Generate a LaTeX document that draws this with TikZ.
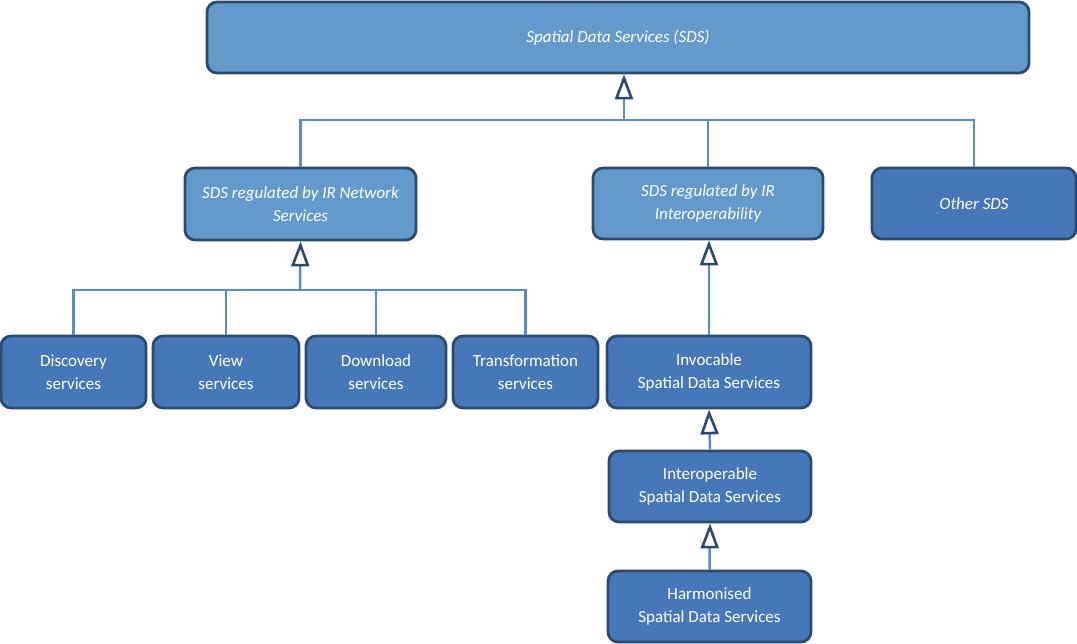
\documentclass[tikz,border=0pt]{standalone}
\usepackage{fontspec}
\setmainfont{Carlito}
\usepackage{tikz}
\usetikzlibrary{arrows.meta}

\definecolor{lightbox}{HTML}{6399CB}
\definecolor{darkbox}{HTML}{4677B8}
\definecolor{rim}{HTML}{2A4A70}
\definecolor{wire}{HTML}{558DD2}

\begin{document}
\begin{tikzpicture}[x=1pt,y=-1pt,every node/.style={font=\fontsize{17}{23}\selectfont,text=white,align=center},line width=2.5pt]
\tikzset{box/.style={draw=rim,rounded corners=10pt,line width=2.8pt,inner sep=0pt,minimum height=71pt},
  light/.style={box,fill=lightbox,font=\fontsize{17}{23}\selectfont\itshape},
  dark/.style={box,fill=darkbox},
  link/.style={draw=wire,line width=2.5pt},
  isa/.style={link,-{Triangle[open,length=25pt,width=18pt,line width=2.6pt,color=rim]}}}
\useasboundingbox (0,0) rectangle (1077,644);

% ---------- upper part ----------
\node[light,minimum width=822pt] (sds) at (618,37.5) {Spatial Data Services (SDS)};
\node[light,minimum width=231pt,minimum height=72pt] (net) at (300.5,204) {SDS regulated by IR Network\\Services};
\node[light,minimum width=230pt] (iop) at (708,203.5) {SDS regulated by IR\\Interoperability};
\node[dark,font=\fontsize{17}{23}\selectfont\itshape,minimum width=204pt] (oth) at (974,203.5) {Other SDS};

\coordinate (J1) at (624,120);
\draw[link] (net.north) |- (J1);
\draw[link] (iop.north) |- (J1);
\draw[link] (oth.north) |- (J1);
\draw[isa] (J1) -- (J1 |- sds.south);

% ---------- network services ----------
\node[dark,minimum width=145pt,minimum height=72pt] (D1) at (73.5,372) {Discovery\\services};
\node[dark,minimum width=146pt,minimum height=72pt] (D2) at (226,372) {View\\services};
\node[dark,minimum width=140pt,minimum height=72pt] (D3) at (376,372) {Download\\services};
\node[dark,minimum width=145pt,minimum height=72pt] (D4) at (525.5,372) {Transformation\\services};

\coordinate (J2) at (300,290);
\draw[link] (D1.north) |- (J2);
\draw[link] (D2.north) |- (J2);
\draw[link] (D3.north) |- (J2);
\draw[link] (D4.north) |- (J2);
\draw[isa] (J2) -- (net.south);

% ---------- interoperability ----------
\node[dark,minimum width=204pt,minimum height=72pt] (E1) at (709,372) {Invocable\\Spatial Data Services};
\node[dark,minimum width=202pt] (E2) at (710,486.5) {Interoperable\\Spatial Data Services};
\node[dark,minimum width=203pt] (E3) at (709.5,606.5) {Harmonised\\Spatial Data Services};

\draw[isa] (E1.north) -- (E1.north |- iop.south);
\draw[isa] (E2.north) -- (E1.south);
\draw[isa] (E3.north) -- (E2.south);

\end{tikzpicture}
\end{document}
